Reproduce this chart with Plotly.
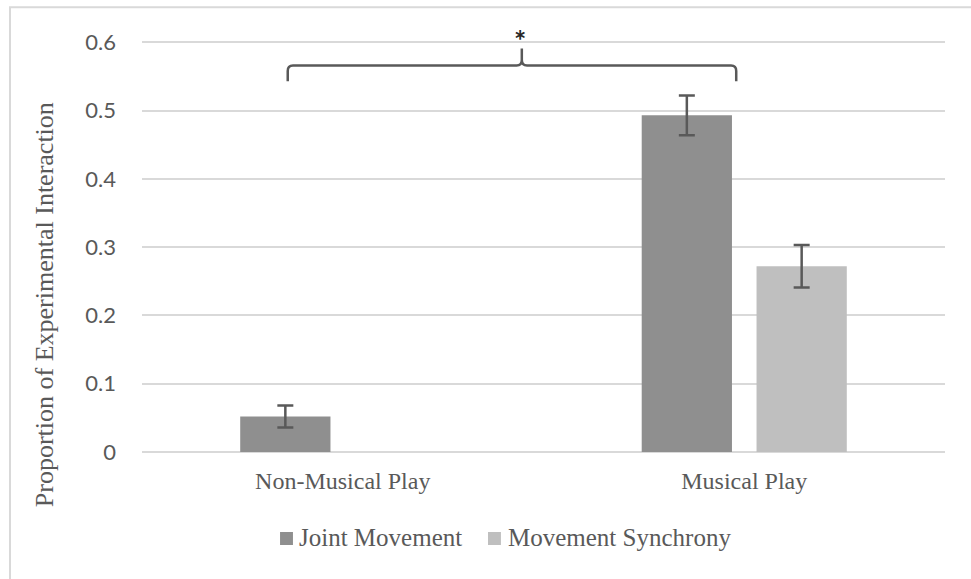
import plotly.graph_objects as go

# Data
categories = ["Non-Musical Play", "Musical Play"]
series_names = ["Joint Movement", "Movement Synchrony"]
joint_movement = [0.052, 0.493]
joint_movement_err = [0.016, 0.029]
movement_synchrony = [None, 0.272]
movement_synchrony_err = [None, 0.031]
y_ticks = [0, 0.1, 0.2, 0.3, 0.4, 0.5, 0.6]
y_tick_text = ["0", "0.1", "0.2", "0.3", "0.4", "0.5", "0.6"]

DARK = "#595959"
GRID = "#d9d9d9"
SERIF = "Liberation Serif, Times New Roman, serif"
SANS = "Lato, Open Sans, sans-serif"
COLORS = ["#8f8f8f", "#bfbfbf"]

fig = go.Figure()
for name, vals, errs, col in zip(series_names,
                                 [joint_movement, movement_synchrony],
                                 [joint_movement_err, movement_synchrony_err],
                                 COLORS):
    fig.add_trace(go.Bar(
        name=name, x=categories, y=vals,
        marker=dict(color=col, line=dict(width=0)),
        error_y=dict(type="data", array=errs, color=DARK, thickness=2.5, width=8),
        showlegend=False,
    ))

# Significance brace between the two play conditions
bx0, bx1, bxc = -0.137, 0.98, 0.446
by_end, by_mid, by_tip = 0.543, 0.566, 0.591
rx, ry = 0.013, 0.008
brace = (
    f"M {bx0},{by_end} L {bx0},{by_mid - ry} Q {bx0},{by_mid} {bx0 + rx},{by_mid} "
    f"L {bxc - rx},{by_mid} Q {bxc},{by_mid} {bxc},{by_mid + ry} L {bxc},{by_tip} "
    f"M {bxc},{by_mid + ry} Q {bxc},{by_mid} {bxc + rx},{by_mid} "
    f"L {bx1 - rx},{by_mid} Q {bx1},{by_mid} {bx1},{by_mid - ry} L {bx1},{by_end}"
)
fig.add_shape(type="path", path=brace, xref="x", yref="y",
              line=dict(color=DARK, width=2.5))
fig.add_annotation(x=bxc - 0.004, y=0.604, xref="x", yref="y", text="<b>*</b>",
                   showarrow=False, xanchor="center", yanchor="middle",
                   font=dict(family=SANS, size=29, color="#262626"))

# Chart frame
fig.add_shape(type="rect", xref="paper", yref="paper",
              x0=-0.1644, x1=1.06, y0=-0.35, y1=1.018,
              line=dict(color=GRID, width=2), layer="below")

# Y-axis title
fig.add_annotation(x=-0.122, y=0.336, xref="paper", yref="paper",
                   xanchor="center", yanchor="middle",
                   text="Proportion of Experimental Interaction", textangle=-90,
                   showarrow=False, font=dict(family=SERIF, size=26, color=DARK))

# Legend below the axis
legend_items = [
    (0.1719, 0.188, 0.193),
    (0.4309, 0.447, 0.4533),
]
for name, col, (mx0, mx1, tx) in zip(series_names, COLORS, legend_items):
    fig.add_shape(type="rect", xref="paper", yref="paper",
                  x0=mx0, x1=mx1, y0=-0.2128, y1=-0.183,
                  fillcolor=col, line=dict(width=0))
    fig.add_annotation(x=tx, y=-0.1965, xref="paper", yref="paper",
                       xanchor="left", yanchor="middle", text=name,
                       showarrow=False, font=dict(family=SERIF, size=25, color=DARK))

fig.update_layout(
    width=971, height=579,
    margin=dict(l=142, r=26, t=15, b=127),
    paper_bgcolor="white", plot_bgcolor="white",
    barmode="group", bargap=0.428, bargroupgap=0.214,
    showlegend=False,
    xaxis=dict(showgrid=False, showline=False, zeroline=False, ticks="",
               tickfont=dict(family=SERIF, size=24, color=DARK),
               ticklabelstandoff=12),
    yaxis=dict(range=[0, 0.64], tickvals=y_ticks, ticktext=y_tick_text,
               showgrid=True, gridcolor=GRID, gridwidth=2,
               zeroline=True, zerolinecolor=GRID, zerolinewidth=2,
               showline=False, ticks="",
               tickfont=dict(family=SANS, size=22, color=DARK),
               ticklabelstandoff=25),
)

fig.write_html("out.html")
